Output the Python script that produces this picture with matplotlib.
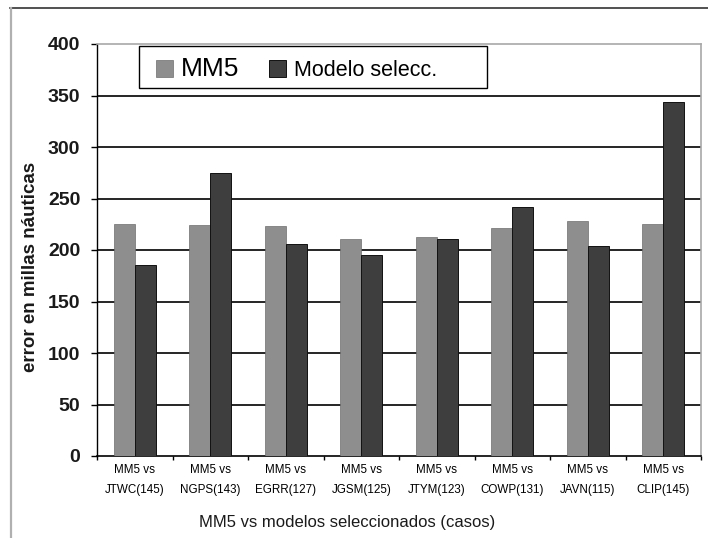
import numpy as np
import matplotlib.pyplot as plt
from matplotlib.patches import Rectangle
from matplotlib.lines import Line2D

# errores medios de trayectoria (millas náuticas)
modelos = ['JTWC(145)', 'NGPS(143)', 'EGRR(127)', 'JGSM(125)',
           'JTYM(123)', 'COWP(131)', 'JAVN(115)', 'CLIP(145)']
err_mm5 = [225, 224, 223, 211, 213, 221, 228, 225]
err_modelo = [185, 275, 206, 195, 211, 242, 204, 344]
series_names = ['MM5', 'Modelo selecc.']
y_ticks = [0, 50, 100, 150, 200, 250, 300, 350, 400]

W, H = 708, 538
fig = plt.figure(figsize=(W / 100, H / 100), dpi=100)
plt.rcParams['font.family'] = ['Liberation Sans', 'DejaVu Sans']

ax = fig.add_axes([97 / W, 1 - 456 / H, (701 - 97) / W, (456 - 44) / H])

x = np.arange(len(modelos))
bw = 0.28
b1 = ax.bar(x - bw / 2, err_mm5, bw, color='#8e8e8e', edgecolor='#6e6e6e',
            linewidth=0.5, zorder=3, label=series_names[0])
b2 = ax.bar(x + bw / 2, err_modelo, bw, color='#3e3e3e', edgecolor='#111111',
            linewidth=0.7, zorder=3, label=series_names[1])

ax.set_xlim(-0.5, len(modelos) - 0.5)
ax.set_ylim(0, 400)
ax.set_yticks(y_ticks)
ax.set_yticklabels([str(v) for v in y_ticks], fontsize=14, fontweight='bold',
                   color='#1a1a1a')
ax.tick_params(axis='y', direction='out', length=4, width=1, pad=8)

# etiquetas centradas en cada grupo, marcas entre grupos
ax.set_xticks(x)
ax.set_xticklabels(['MM5 vs\n' + m for m in modelos], fontsize=8.4,
                   linespacing=1.9)
ax.tick_params(axis='x', length=0, pad=6)
ax.set_xticks(np.arange(-0.5, len(modelos)), minor=True)
ax.tick_params(axis='x', which='minor', direction='out', length=3, width=1)

for v in y_ticks[1:-1]:
    ax.axhline(v, color='black', linewidth=1.2, zorder=1)

for side in ['top', 'right']:
    ax.spines[side].set_color('#a8a8a8')
    ax.spines[side].set_linewidth(1.2)
ax.spines['left'].set_color('black')
ax.spines['bottom'].set_color('black')
ax.spines['left'].set_linewidth(1.0)
ax.spines['bottom'].set_linewidth(1.2)

fig.text(31 / W, 1 - 267 / H, 'error en millas náuticas', rotation=90,
         ha='center', va='center', fontsize=13.5, fontweight='bold',
         color='#1a1a1a')
fig.text(347 / W, 1 - 522 / H, 'MM5 vs modelos seleccionados (casos)',
         ha='center', va='center', fontsize=12, color='#1a1a1a')

# leyenda con marco propio
fig.patches.append(Rectangle((139 / W, 1 - 88 / H), (487 - 139) / W, 42 / H,
                             transform=fig.transFigure, facecolor='white',
                             edgecolor='black', linewidth=1.0, zorder=5))
leg = fig.legend(handles=[b1, b2], loc='center left',
                 bbox_to_anchor=(156 / W, 1 - 69 / H),
                 bbox_transform=fig.transFigure, ncol=2, frameon=False,
                 fontsize=15.5, handlelength=0.8, handleheight=0.78,
                 handletextpad=0.35, columnspacing=1.4, borderpad=0,
                 borderaxespad=0)
leg.get_texts()[0].set_fontsize(19)
leg.set_zorder(6)

# borde del área del gráfico
fig.add_artist(Line2D([10 / W, 1], [1 - 8 / H, 1 - 8 / H], color='#333333',
                      linewidth=1.2, transform=fig.transFigure))
fig.add_artist(Line2D([11 / W, 11 / W], [0, 1 - 8 / H], color='#b0b0b0',
                      linewidth=1.6, transform=fig.transFigure))

fig.savefig('out.png', dpi=100, facecolor='white')
